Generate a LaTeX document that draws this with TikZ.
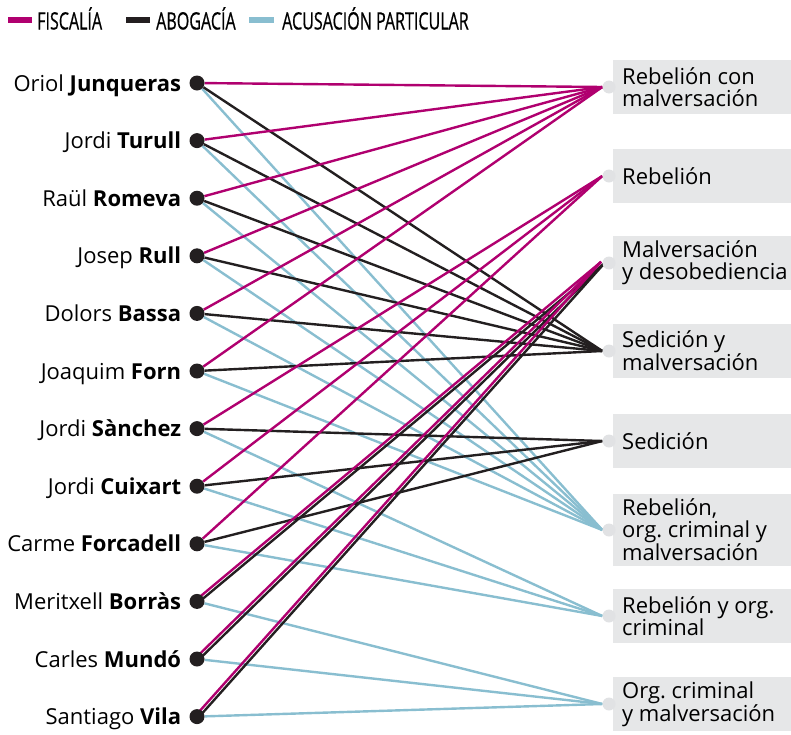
\documentclass[tikz,border=0pt]{standalone}
\usepackage{fontspec}
\setmainfont{Open Sans}
\newfontfamily\legendfont[FakeStretch=0.67,FakeBold=0.6]{Open Sans}
\usepackage{tikz}
\usetikzlibrary{calc,positioning}
\frenchspacing
\definecolor{Fiscal}{HTML}{B0006F}
\definecolor{Abogado}{HTML}{231F20}
\definecolor{Acusa}{HTML}{89BED0}
\definecolor{BoxGray}{HTML}{E6E7E8}
\definecolor{DotGray}{HTML}{E1E2E4}
\pgfdeclarelayer{back}
\pgfsetlayers{back,main}
\tikzset{
  acusado/.style={circle,fill=Abogado,inner sep=0pt,minimum size=15pt},
  delito/.style={circle,fill=DotGray,inner sep=0pt,minimum size=13pt},
  nombre/.style={inner sep=0pt,label distance=8pt,text height=16pt,text depth=0pt,
    font=\fontsize{22}{22}\selectfont},
  caja/.style={fill=BoxGray,anchor=west,inner xsep=9pt,inner ysep=3.3pt,
    text width=175pt,minimum height=54pt,align=flush left,font=\fontsize{22}{22}\selectfont},
  leyenda/.style={anchor=base west,inner sep=0pt,font=\legendfont\fontsize{24}{24}\selectfont},
  fis/.style={Fiscal,line width=2.4pt},
  abo/.style={Abogado,line width=2.4pt},
  acu/.style={Acusa,line width=2.4pt}
}
\begin{document}
\begin{tikzpicture}[x=1pt,y=-1pt]
                \useasboundingbox (0,0) rectangle (791,734);
                % leyenda
                \draw[Fiscal,line width=6pt] (8,20) -- (32,20);
                \node[leyenda] (lfis) at (37,29.5) {FISCALÍA};
                \draw[Abogado,line width=6pt] (126,20) -- (150,20);
                \node[leyenda] (labo) at (156,29.5) {ABOGACÍA};
                \draw[Acusa,line width=6pt] (249,20) -- (274,20);
                \node[leyenda] (lacu) at (282,29.5) {ACUSACIÓN PARTICULAR};

                % acusados
                \foreach \id/\nom/\ape/\y in {jun/Oriol/Junqueras/83, tur/Jordi/Turull/140.6,
                    rom/Raül/Romeva/198.2, rul/Josep/Rull/255.8, bas/Dolors/Bassa/313.4,
                    frn/Joaquim/Forn/371, san/Jordi/Sànchez/428.6, cui/Jordi/Cuixart/486.2,
                    frc/Carme/Forcadell/543.8, bor/Meritxell/Borràs/601.4, mun/Carles/Mundó/659,
                    vil/Santiago/Vila/716.6} {
                    \node[acusado,label={[nombre]left:\nom\ \textbf{\ape}}] (\id) at (197,\y) {};
                }

                % delitos
                \foreach \id/\txt/\y/\h in {rcm/{Rebelión con\\malversación}/87/54,
                    reb/{Rebelión}/176/54, myd/{Malversación\\y desobediencia}/263/54,
                    sym/{Sedición y\\malversación}/351/54, sed/{Sedición}/441/54,
                    roc/{Rebelión,\\org. criminal y\\malversación}/530/72,
                    rye/{Rebelión y org.\\criminal}/616/54, ocm/{Org. criminal\\y malversación}/704/54} {
                    \node[caja,minimum height=\h pt] (\id-caja) at (613,\y) {\txt};
                    \node[delito] (\id) at (609,\y) {};
                }

                \begin{pgfonlayer}{back}
                    \foreach \a in {jun,tur,rom,rul,bas,frn} \draw[acu] (\a) -- (roc.west);
                    \foreach \a in {san,cui,frc} \draw[acu] (\a) -- (rye.west);
                    \foreach \a in {bor,mun,vil} \draw[acu] (\a) -- (ocm.west);
                    \foreach \a in {jun,tur,rom,rul,bas,frn} \draw[abo] (\a) -- (sym.west);
                    \foreach \a in {san,cui,frc} \draw[abo] (\a) -- (sed.west);
                    \foreach \a in {jun,tur,rom,rul,bas,frn} \draw[fis] (\a) -- (rcm.west);
                    \foreach \a in {san,cui,frc} \draw[fis] (\a) -- (reb.west);
                    % dobles: fiscalia y abogacia
                    \foreach \a in {bor,mun,vil} {
                        \draw[abo] ($(\a.center)!1.7pt!-90:(myd.west)$) -- ($(myd.west)!1.7pt!90:(\a.center)$);
                        \draw[fis] ($(\a.center)!1.7pt!90:(myd.west)$) -- ($(myd.west)!1.7pt!-90:(\a.center)$);
                    }
                \end{pgfonlayer}
            \end{tikzpicture}
\end{document}
